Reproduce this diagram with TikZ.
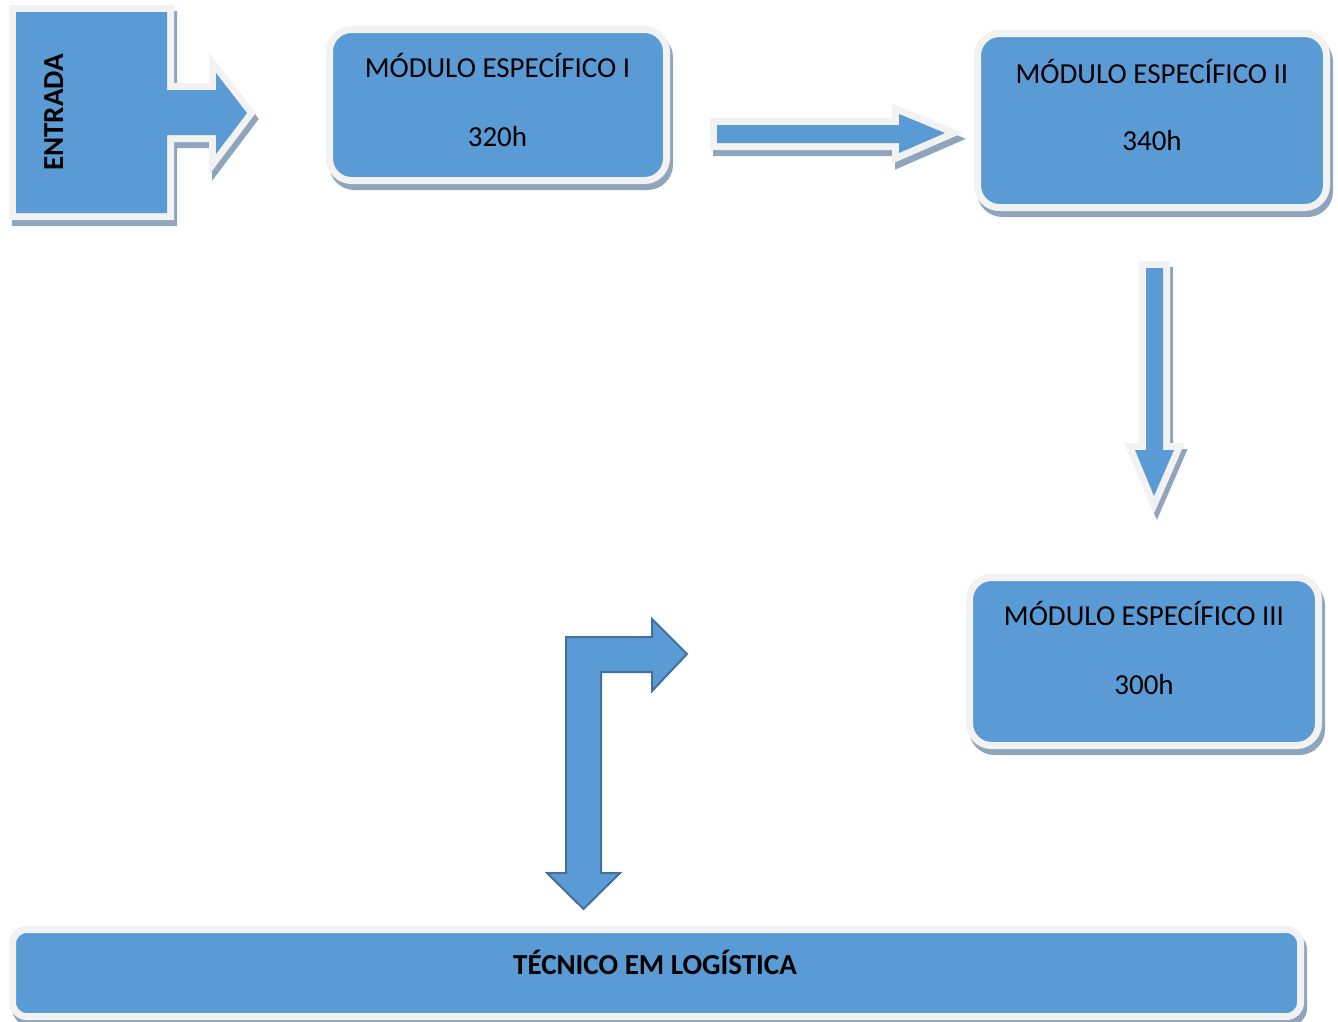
\documentclass[tikz,border=0pt]{standalone}
\usepackage{fontspec}
\setmainfont{Carlito}
\definecolor{fillb}{HTML}{5B9BD5}
\definecolor{rimc}{HTML}{F2F2F2}
\definecolor{shadc}{HTML}{8FA5BC}
\definecolor{edgec}{HTML}{41719C}
\tikzset{
  modbox/.style={rectangle, rounded corners=22pt, fill=fillb, draw=rimc, line width=7pt, inner sep=0pt,
    preaction={draw=shadc, fill=shadc, transform canvas={xshift=3pt,yshift=-6pt}}},
  barbox/.style={modbox, rounded corners=14pt},
  blockarrow/.style={fill=fillb, line join=miter,
    preaction={draw=shadc, fill=shadc, line width=14pt, transform canvas={xshift=3pt,yshift=-6pt}},
    preaction={draw=rimc, line width=14pt}},
  bentarrow/.style={fill=fillb, draw=edgec, line width=2pt, line join=miter},
  modtxt/.style={inner sep=0pt, anchor=base, font=\fontsize{29}{35}\selectfont},
  boldtxt/.style={modtxt, font=\fontsize{29}{35}\selectfont\bfseries}
}
\begin{document}
\begin{tikzpicture}[x=1pt,y=-1pt]
\useasboundingbox (0,0) rectangle (1338,1021);

% ENTRADA block arrow
\path[blockarrow] (16,12) -- (167,12) -- (167,90) -- (216,90) -- (216,73) -- (247,113)
  -- (216,154) -- (216,135) -- (167,135) -- (167,213) -- (16,213) -- cycle;
\node[boldtxt, rotate=90] (entrada) at (63,112.5) {ENTRADA};

% Module boxes
\node[modbox, minimum width=337pt, minimum height=151pt] (m1) at (498,105) {};
\node[modtxt] (m1a) at (497.5,77) {MÓDULO ESPECÍFICO I};
\node[modtxt] (m1b) at (497.5,146) {320h};

\node[modbox, minimum width=349pt, minimum height=174pt] (m2) at (1152,120.5) {};
\node[modtxt] (m2a) at (1152,83) {MÓDULO ESPECÍFICO II};
\node[modtxt] (m2b) at (1152,150) {340h};

\node[modbox, minimum width=349pt, minimum height=168pt] (m3) at (1144,661.5) {};
\node[modtxt] (m3a) at (1144,625) {MÓDULO ESPECÍFICO III};
\node[modtxt] (m3b) at (1144,694) {300h};

% Final bar
\node[barbox, minimum width=1288pt, minimum height=87pt] (fim) at (656.5,973) {};
\node[boldtxt] (fimt) at (655,974) {TÉCNICO EM LOGÍSTICA};

% Right arrow between module I and II
\path[blockarrow] (717,125) -- (899,125) -- (899,114) -- (945,133) -- (899,153) -- (899,143) -- (717,143) -- cycle;

% Down arrow from module II to III
\path[blockarrow] (1146,268) -- (1163,268) -- (1163,450) -- (1174,450) -- (1154,496) -- (1135,450) -- (1146,450) -- cycle;

% Bent arrow
\path[bentarrow] (566,637) -- (652,637) -- (652,619) -- (687,654) -- (652,691) -- (652,672)
  -- (601,672) -- (601,873) -- (620,873) -- (583.5,909) -- (547,873) -- (566,873) -- cycle;
\end{tikzpicture}
\end{document}
